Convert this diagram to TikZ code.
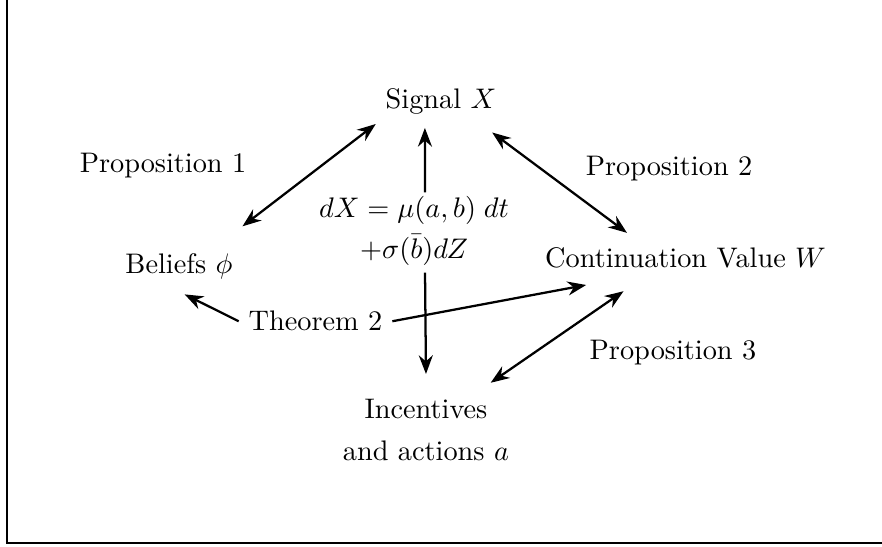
\documentclass[tikz,border=0pt]{standalone}
\usepackage{amsmath}
\usetikzlibrary{arrows.meta}

\begin{document}
\begin{tikzpicture}[
  node_lbl/.style={inner sep=3.33pt, align=center},
  arr_one/.style={-{Stealth}, thick},
  arr_two/.style={{Stealth}-{Stealth}, thick}
]
  \useasboundingbox (0,0) rectangle (10.955,6.782);

  %% Frame (left and bottom edge only)
  \draw[thick] (0.087,6.9) -- (0.087,0.037) -- (11.1,0.037);

  %% Signal at top
  \node[node_lbl] (sig) at (5.478,5.526) {Signal $X$};

  %% Left / right states
  \node[node_lbl] (bel)  at (2.223,3.478) {Beliefs $\phi$};
  \node[node_lbl] (cont) at (8.515,3.575) {Continuation Value $W$};

  %% Signal dynamics
  \node[node_lbl] (dyn) at (5.142,3.919) {$dX=\mu(a,b)\;dt$\\[2.5pt]$+\sigma(\bar{b})dZ$};

  %% Incentives at bottom
  \node[node_lbl] (inc) at (5.291,1.441) {Incentives\\[3pt]and actions $a$};

  %% Result labels
  \node[node_lbl] (prop1) at (2.025,4.731) {Proposition 1};
  \node[node_lbl] (prop2) at (8.310,4.682) {Proposition 2};
  \node[node_lbl] (prop3) at (8.359,2.408) {Proposition 3};
  \node[node_lbl] (thm)   at (3.919,2.792) {Theorem 2};

  \draw[arr_two] (sig.south west) -- ([yshift=6pt]bel.north east);
  \draw[arr_two] ([shift={(-5pt,-3pt)}]sig.south east) -- ([shift={(-20.7pt,1.8pt)}]cont.north);
  \draw[arr_one] ([shift={(3.9pt,-2.3pt)}]dyn.north) -- ([shift={(-5.7pt,-1.4pt)}]sig.south);
  \draw[arr_one] ([shift={(3.9pt,0.9pt)}]dyn.south) -- ([yshift=5.3pt]inc.north);
  \draw[arr_one] (thm.west) -- ([shift={(2pt,-2pt)}]bel.south);
  \draw[arr_one] (thm.east) -- ([shift={(18pt,-2.3pt)}]cont.south west);
  \draw[arr_two] ([shift={(31.2pt,-4.5pt)}]cont.south west) -- ([shift={(-10pt,2.2pt)}]inc.north east);
\end{tikzpicture}
\end{document}
